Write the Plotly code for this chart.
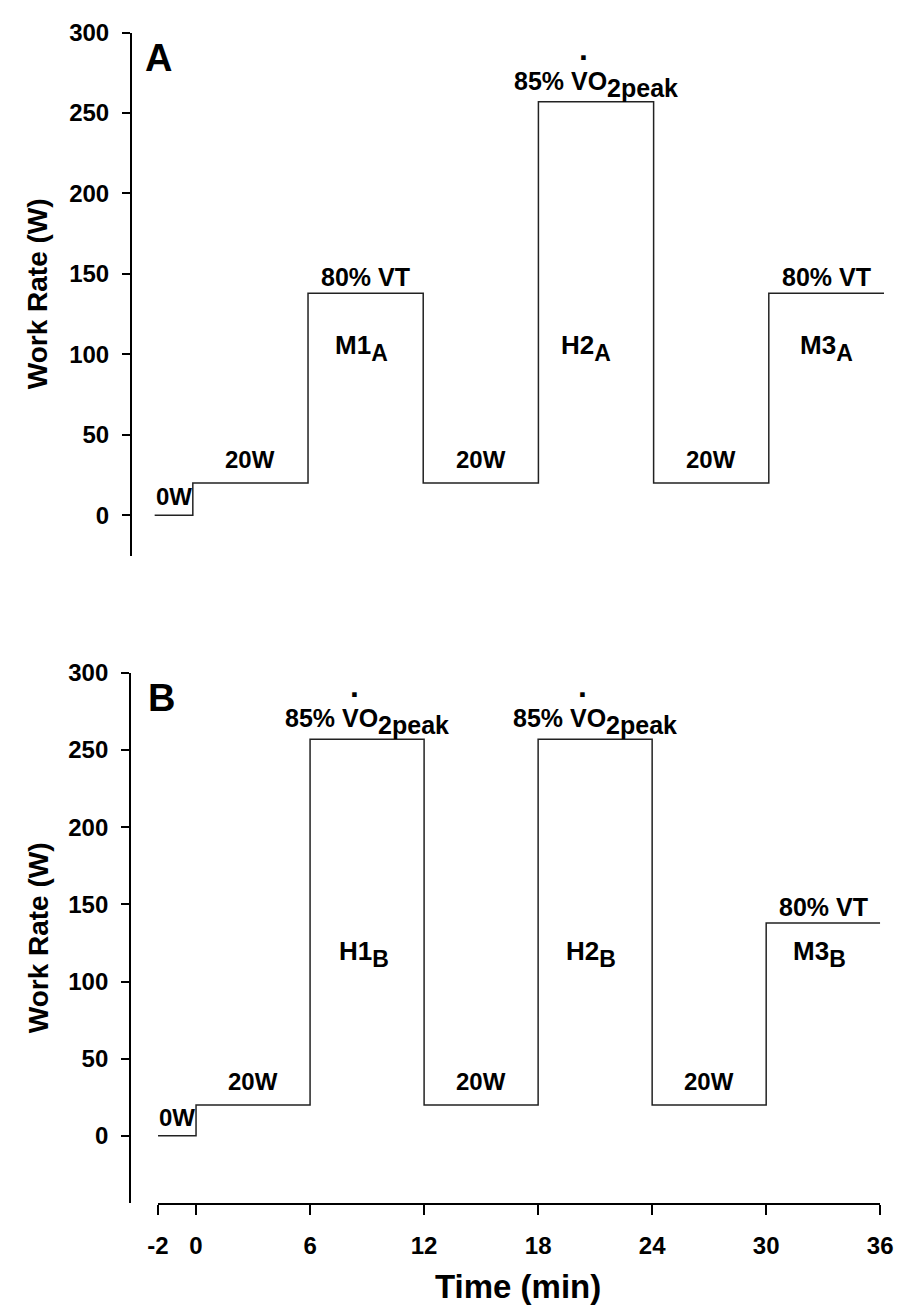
import plotly.graph_objects as go

# Protocol time breakpoints (min) and work rate held over each interval (W)
time_edges = [-2, 0, 6, 12, 18, 24, 30, 36]
work_a = [0, 20, 138, 20, 257, 20, 138]
work_b = [0, 20, 257, 20, 257, 20, 138]

x_ticks = [-2, 0, 6, 12, 18, 24, 30, 36]
x_ticktext = ["-2", "0", "6", "12", "18", "24", "30", "36"]
y_ticks = [0, 50, 100, 150, 200, 250, 300]

# Bout labels: (text, subscript, x position in min)
bouts_a = [("M1", "A", 8.8), ("H2", "A", 20.5), ("M3", "A", 33.0)]
bouts_b = [("H1", "B", 8.85), ("H2", "B", 20.8), ("M3", "B", 32.8)]

FONT = "Liberation Sans, Arial, sans-serif"
W, H = 912, 1310


def px_x(p):
    return p / W


def px_y(p):
    return 1 - p / H


def step_xy(work):
    return time_edges, work + [work[-1]]


def sized(text, px):
    return f"<span style='font-size:{px}px'>{text}</span>"


def with_sub(main, sub, main_px, sub_px):
    # the annotation's base font sets how far <sub> drops; spans keep glyph sizes
    return sized(main, main_px) + "<sub>" + sized(sub, sub_px) + "</sub>"


fig = go.Figure()
xa, ya = step_xy(work_a)
xb, yb = step_xy(work_b)
fig.add_trace(go.Scatter(x=xa, y=ya, mode="lines", line=dict(shape="hv", color="#222", width=1.5),
                         xaxis="x", yaxis="y", showlegend=False, hoverinfo="skip"))
fig.add_trace(go.Scatter(x=xb, y=yb, mode="lines", line=dict(shape="hv", color="#222", width=1.5),
                         xaxis="x2", yaxis="y2", showlegend=False, hoverinfo="skip"))

tickfont = dict(family=FONT, size=24, color="black", weight="bold")
yax_common = dict(
    tickvals=y_ticks, ticks="outside", ticklen=8, tickwidth=1.5, tickcolor="black",
    showline=True, linecolor="black", linewidth=1.5, showgrid=False, zeroline=False,
    tickfont=tickfont, ticklabelstandoff=8, anchor="free",
)

fig.update_layout(
    width=W, height=H, margin=dict(l=0, r=0, t=0, b=0),
    paper_bgcolor="white", plot_bgcolor="white",
    xaxis=dict(domain=[px_x(147.3), px_x(896.6)], range=[-2, 36], visible=False, anchor="y"),
    yaxis=dict(domain=[px_y(548), px_y(18.7)], range=[-25.4, 300], position=px_x(123), **yax_common),
    xaxis2=dict(domain=[px_x(151), px_x(892.7)], range=[-2, 36], anchor="y2",
                tickvals=x_ticks, ticktext=x_ticktext, ticks="outside", ticklen=10, tickwidth=1.5,
                tickcolor="black", showline=True, linecolor="black", linewidth=1.5,
                showgrid=False, zeroline=False, tickfont=tickfont, ticklabelstandoff=10),
    yaxis2=dict(domain=[px_y(1202), px_y(666)], range=[-43.6, 300], position=px_x(122), **yax_common),
)

ann = []


def label(text, x, y, xref, yref, size=24, yshift=0, xshift=0, xanchor="center", yanchor="bottom", angle=0):
    ann.append(dict(text=text, x=x, y=y, xref=xref, yref=yref, showarrow=False,
                    xanchor=xanchor, yanchor=yanchor, xshift=xshift, yshift=yshift, textangle=angle,
                    font=dict(family=FONT, size=size, color="black", weight="bold")))


def level_labels(work, xr, yr):
    for i, w in enumerate(work):
        mid = (time_edges[i] + time_edges[i + 1]) / 2
        if w == 0:
            label(f"{w}W", mid, w, xr, yr, yshift=3)
        elif w == 20:
            label(f"{w}W", mid, w, xr, yr, yshift=8)
        elif w == 138:
            label("80% VT", mid, w, xr, yr, size=25, yshift=0)
        else:
            label(with_sub("85% VO", "2peak", 25, 25), mid, w, xr, yr, size=34, yshift=-2)
            # dot over the V
            label(".", mid, w, xr, yr, size=32, xshift=-13, yshift=33)


level_labels(work_a, "x", "y")
level_labels(work_b, "x2", "y2")

for name, sub, xpos in bouts_a:
    label(with_sub(name, sub, 26, 23), xpos, 104, "x", "y", size=35, yanchor="middle")
for name, sub, xpos in bouts_b:
    label(with_sub(name, sub, 26, 23), xpos, 118, "x2", "y2", size=35, yanchor="middle")

# Panel letters
label("A", px_x(136), px_y(21), "paper", "paper", size=38, xanchor="left", yanchor="top")
label("B", px_x(139), px_y(668), "paper", "paper", size=38, xanchor="left", yanchor="top")

# Axis titles
label("Work Rate (W)", px_x(28), px_y(283), "paper", "paper", size=28, yanchor="middle", angle=-90)
label("Work Rate (W)", px_x(28), px_y(934), "paper", "paper", size=28, yanchor="middle", angle=-90)
label("Time (min)", px_x(521), px_y(1286), "paper", "paper", size=33, yanchor="middle")

fig.update_layout(annotations=ann)
fig.write_html("out.html")
